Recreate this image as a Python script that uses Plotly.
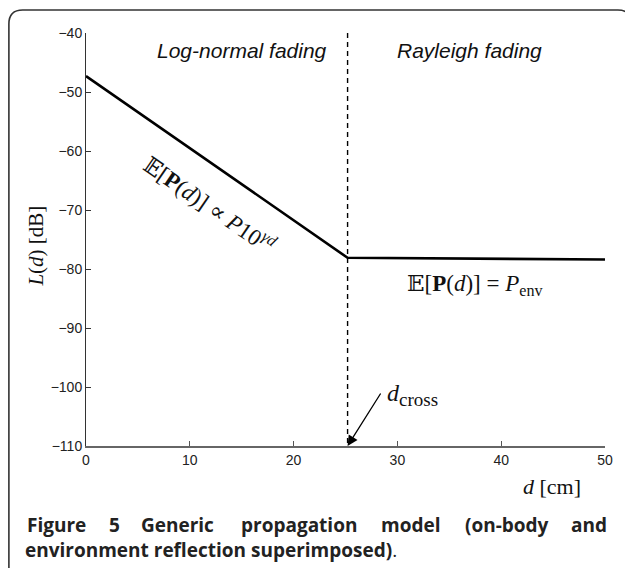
import plotly.graph_objects as go

# Piecewise path-loss model: log-normal slope up to the crossover, then flat floor
distance_cm = [0, 25.2, 50]
path_loss_db = [-47.3, -78.1, -78.4]
crossover_cm = 25.2

x_ticks = [0, 10, 20, 30, 40, 50]
y_ticks = [-40, -50, -60, -70, -80, -90, -100, -110]

W, H = 625, 568
L, R, T, B = 86, 14, 33, 122
PW, PH = W - L - R, H - T - B


def px(xp):
    return (xp - L) / PW


def py(yp):
    return (H - B - yp) / PH


SERIF = "Liberation Serif, DejaVu Serif, serif"
SANS = "Liberation Sans, Arial, sans-serif"

fig = go.Figure()

fig.add_trace(go.Scatter(
    x=distance_cm, y=path_loss_db, mode="lines",
    line=dict(color="black", width=2.6), showlegend=False, hoverinfo="skip",
))

# vertical dashed crossover marker
fig.add_trace(go.Scatter(
    x=[crossover_cm, crossover_cm], y=[y_ticks[0], y_ticks[-1]], mode="lines",
    line=dict(color="black", width=1.4, dash="5px,4px"), showlegend=False, hoverinfo="skip",
))

ann = []
ann.append(dict(x=15.0, y=-42.9, text="<i>Log-normal fading</i>", showarrow=False,
                font=dict(family=SANS, size=21, color="#111")))
ann.append(dict(x=36.95, y=-42.9, text="<i>Rayleigh fading</i>", showarrow=False,
                font=dict(family=SANS, size=21, color="#111")))
ann.append(dict(x=11.9, y=-69.1, textangle=34.5,
                text="𝔼[<b>P</b>(<i>d</i>)] ∝ <i>P</i>10<sup><i>γd</i></sup>",
                showarrow=False, font=dict(family=SERIF, size=23, color="#111")))
ann.append(dict(x=37.5, y=-82.7,
                text="𝔼[<b>P</b>(<i>d</i>)] = <i>P</i><sub>env</sub>",
                showarrow=False, font=dict(family=SERIF, size=23, color="#111")))
ann.append(dict(x=31.5, y=-101.3,
                text='<i>d</i><sub><span style="font-size:19px">cross</span></sub>',
                showarrow=False, font=dict(family=SERIF, size=24, color="#111")))
# arrow pointing at the crossover distance on the axis
ann.append(dict(x=crossover_cm, y=y_ticks[-1], text="", showarrow=True,
                ax=34, ay=-54, arrowhead=2, arrowsize=1.6, arrowwidth=1.3,
                arrowcolor="black"))

# axis titles
ann.append(dict(xref="paper", yref="paper", x=px(557), y=py(487),
                xanchor="center", yanchor="middle",
                text="<i>d</i> [cm]", showarrow=False,
                font=dict(family=SERIF, size=22, color="#111")))
ann.append(dict(xref="paper", yref="paper", x=px(35), y=py(246), textangle=-90,
                xanchor="center", yanchor="middle",
                text="<i>L</i>(<i>d</i>) [dB]", showarrow=False,
                font=dict(family=SERIF, size=21, color="#111")))

# figure caption, first line justified word by word (word centres)
CAP = "Open Sans, Noto Sans, sans-serif"
CAP_SIZE = 19
line1 = [("Figure", 56), ("5", 115), ("Generic", 179), ("propagation", 301),
         ("model", 414), ("(on-body", 512), ("and", 595)]
for word, xpos in line1:
    ann.append(dict(xref="paper", yref="paper", x=px(xpos), y=py(525),
                    xanchor="center", yanchor="middle", text="<b>%s</b>" % word,
                    showarrow=False, font=dict(family=CAP, size=CAP_SIZE, color="#222")))
ann.append(dict(xref="paper", yref="paper", x=px(22), y=py(550),
                xanchor="left", yanchor="middle",
                text="<b>environment reflection superimposed)</b>.",
                showarrow=False, font=dict(family=CAP, size=CAP_SIZE, color="#222")))

# rounded frame around the figure
fl, ft, fr, fb, r = px(8), py(10), px(638), py(600), 14
rx, ry = r / PW, r / PH
frame = (f"M {fl},{fb} L {fl},{ft - ry} Q {fl},{ft} {fl + rx},{ft} "
         f"L {fr - rx},{ft} Q {fr},{ft} {fr},{ft - ry} L {fr},{fb}")

fig.update_layout(
    width=W, height=H,
    margin=dict(l=L, r=R, t=T, b=B),
    paper_bgcolor="white", plot_bgcolor="white",
    annotations=ann,
    shapes=[dict(type="path", xref="paper", yref="paper", path=frame,
                 line=dict(color="#333", width=1.6))],
    xaxis=dict(range=[0, 50], tickvals=x_ticks, ticks="inside", ticklen=5,
               tickcolor="#555", showline=True, linecolor="#666", linewidth=1.5,
               showgrid=False, zeroline=False,
               tickfont=dict(family=SANS, size=14, color="#222")),
    yaxis=dict(range=[-110, -40], tickvals=y_ticks, ticks="inside", ticklen=5,
               tickcolor="#333", showline=True, linecolor="#333", linewidth=1,
               showgrid=False, zeroline=False,
               tickfont=dict(family=SANS, size=14, color="#222")),
)

fig.write_html("out.html")
